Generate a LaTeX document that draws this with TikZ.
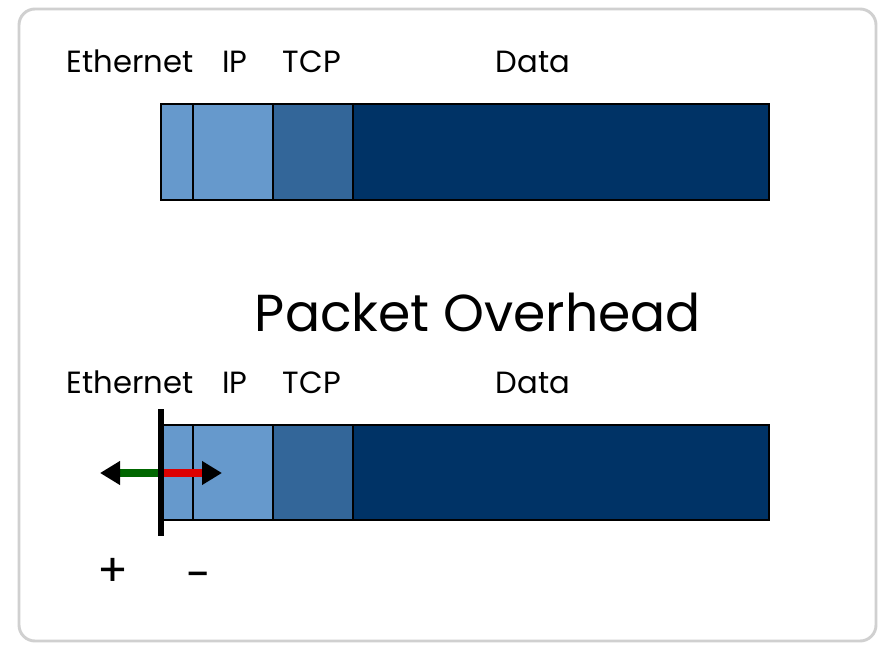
\documentclass[tikz,border=0pt]{standalone}
\usepackage{fontspec}
\setmainfont{Poppins}
\usetikzlibrary{arrows.meta}
\definecolor{hdrlight}{HTML}{6699CC}
\definecolor{hdrmid}{HTML}{336699}
\definecolor{hdrdark}{HTML}{003366}
\definecolor{framegray}{HTML}{D0D0D0}
\definecolor{plusgreen}{HTML}{006600}
\definecolor{minusred}{HTML}{DD0000}
\begin{document}
\begin{tikzpicture}[x=0.75pt,y=-0.75pt,
  seg/.style={draw=black,line width=1.8pt},
  lbl/.style={font=\fontsize{23}{26}\selectfont,anchor=base},
  title/.style={font=\fontsize{39}{44}\selectfont,anchor=base},
  sign/.style={font=\fontsize{34}{38}\selectfont,anchor=base},
  push/.style={line width=6.5pt,-{Triangle[length=15pt,width=17pt,color=black]}}]
\useasboundingbox (0,0) rectangle (878,645);
% outer frame
\draw[framegray,line width=2.2pt,rounded corners=12pt] (19,9) rectangle (876,641);

% upper packet
\foreach \x/\w/\c/\n in {161/193/hdrlight/ea,193/273/hdrlight/ia,273/353/hdrmid/ta,353/769/hdrdark/da}
  \draw[seg,fill=\c] (\x,104) rectangle (\w,200) coordinate (\n);
\node[lbl] (eth1) at (130,73) {Ethernet};
\node[lbl] (ip1) at (235,73) {IP};
\node[lbl] (tcp1) at (312,73) {TCP};
\node[lbl] (dat1) at (533,73) {Data};

\node[title] (ttl) at (478,331) {Packet Overhead};

% lower packet
\foreach \x/\w/\c/\n in {161/193/hdrlight/eb,193/273/hdrlight/ib,273/353/hdrmid/tb,353/769/hdrdark/db}
  \draw[seg,fill=\c] (\x,425) rectangle (\w,520) coordinate (\n);
\node[lbl] (eth2) at (130,393) {Ethernet};
\node[lbl] (ip2) at (235,393) {IP};
\node[lbl] (tcp2) at (312,393) {TCP};
\node[lbl] (dat2) at (533,393) {Data};

% boundary marker with the two directions
\coordinate (mtop) at (161,409);
\coordinate (mbot) at (161,536);
\coordinate (mid) at (161,473);
\coordinate (lefttip) at (100,473);
\coordinate (righttip) at (222,473);
\draw[push,plusgreen] (mid) -- (lefttip);
\draw[push,minusred] (mid) -- (righttip);
\draw[line width=4.5pt] (mtop) -- (mbot);

\node[sign] (plus) at (113,586) {+};
\node[sign] (minus) at (199,590) {-};
\end{tikzpicture}
\end{document}
